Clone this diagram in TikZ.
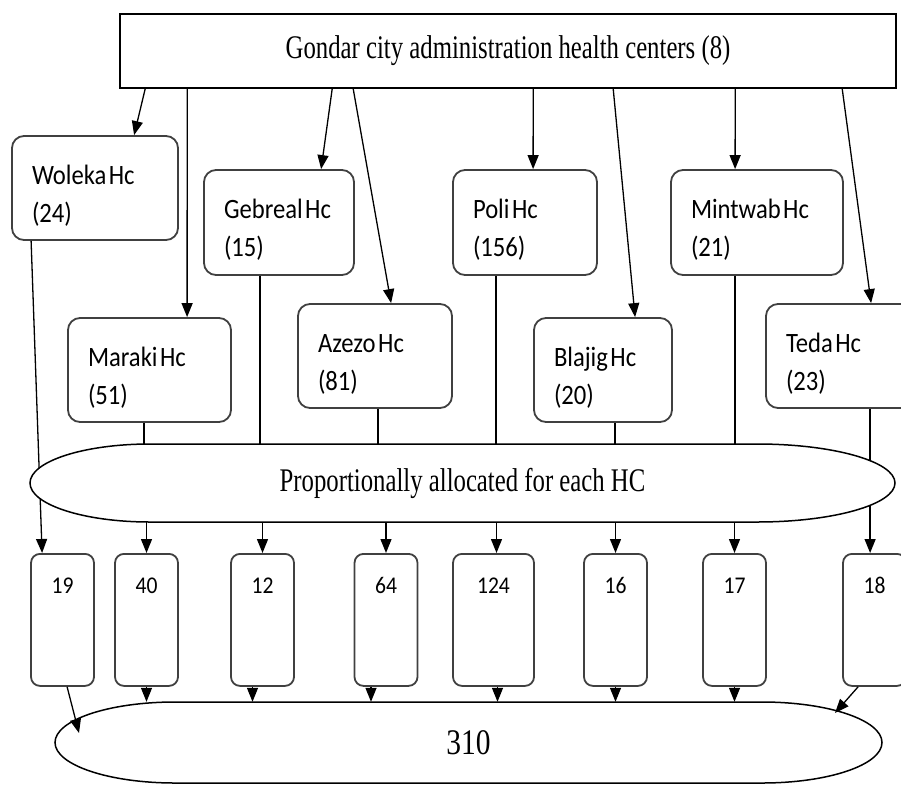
\documentclass[tikz,border=0pt]{standalone}
\usepackage{fontspec}
\setmainfont{Liberation Serif}
\newfontfamily\titlefont[FakeStretch=0.75]{Liberation Serif}
\newfontfamily\numfont[FakeStretch=0.82]{Liberation Serif}
\newfontfamily\hcfont[FakeStretch=0.88]{Carlito}
\newfontfamily\smallnum[FakeStretch=0.9]{Carlito}
\usetikzlibrary{arrows.meta,calc}
\newcommand\upstrut{\rule{0pt}{34pt}}
\newcommand\hcgap{\hspace{2.5pt}}
\begin{document}
\begin{tikzpicture}[x=1pt,y=-1pt,
  conn/.style={line width=1.3pt,draw=black},
  arr/.style={conn,-{Triangle[length=14pt,width=11pt]}},
  hcbox/.style={draw=black!75,line width=1.8pt,rounded corners=12pt,align=left,
     inner xsep=20pt,inner ysep=0pt,font=\hcfont\fontsize{28}{38}\selectfont},
  numbox/.style={draw=black!75,line width=1.8pt,rounded corners=9pt,inner xsep=0pt,inner ysep=0pt,
     minimum width=63pt,text height=40pt,text depth=92pt,font=\smallnum\fontsize{24}{28}\selectfont},
  stad/.style={draw=black,line width=1.5pt,fill=white}]
\useasboundingbox (0,0) rectangle (901,784);
\clip (0,0) rectangle (901,784);
% top box
\node[draw=black,line width=1.6pt,minimum width=776pt,minimum height=74pt,inner sep=0pt,
  font=\titlefont\fontsize{33}{38}\selectfont] (top) at (508,51) {Gondar city administration health centers (8)};
% HC boxes
\node[hcbox,text width=126pt,minimum height=104pt] (woleka) at (95,188) {\upstrut Woleka\hcgap Hc\\(24)};
\node[hcbox,text width=110pt,minimum height=105pt] (gebreal) at (279,222.5) {\upstrut Gebreal\hcgap Hc\\(15)};
\node[hcbox,text width=104pt,minimum height=105pt] (poli) at (525,222.5) {\upstrut Poli\hcgap Hc\\(156)};
\node[hcbox,text width=132pt,minimum height=105pt] (mintwab) at (757,222.5) {\upstrut Mintwab\hcgap Hc\\(21)};
\node[hcbox,text width=123pt,minimum height=104pt] (maraki) at (149.5,370) {\upstrut Maraki\hcgap Hc\\(51)};
\node[hcbox,text width=114pt,minimum height=104pt] (azezo) at (375,356) {\upstrut Azezo\hcgap Hc\\(81)};
\node[hcbox,text width=98pt,minimum height=104pt] (blajig) at (603,370) {\upstrut Blajig\hcgap Hc\\(20)};
\node[hcbox,text width=118pt,minimum height=104pt] (teda) at (845,356) {\upstrut Teda\hcgap Hc\\(23)};
% middle stadium anchor node
\node[minimum width=865pt,minimum height=78pt,inner sep=0pt] (prop) at (462.5,483) {};
% bottom boxes
\node[numbox] (n19) at (62.5,553) [anchor=north] {19};
\node[numbox] (n40) at (146.5,553) [anchor=north] {40};
\node[numbox] (n12) at (262.5,553) [anchor=north] {12};
\node[numbox] (n64) at (386,553) [anchor=north] {64};
\node[numbox,minimum width=81pt] (n124) at (493.5,553) [anchor=north] {124};
\node[numbox] (n16) at (615.5,553) [anchor=north] {16};
\node[numbox] (n17) at (734.5,553) [anchor=north] {17};
\node[numbox] (n18) at (874.5,553) [anchor=north] {18};
% bottom stadium anchor node
\node[minimum width=827pt,minimum height=81pt,inner sep=0pt] (total) at (468.5,742.5) {};
% connectors top -> HC
\draw[arr] ($(top.south west)+(26,0)$) -- ($(woleka.north west)+(123,0)$);
\draw[arr] ($(top.south west)+(68,0)$) -- ($(maraki.north west)+(120,0)$);
\draw[arr] ($(top.south west)+(213,0)$) -- ($(gebreal.north west)+(118,0)$);
\draw[arr] ($(top.south west)+(234,0)$) -- ($(azezo.north west)+(94,0)$);
\draw[arr] ($(top.south west)+(414,0)$) -- ($(poli.north west)+(81,0)$);
\draw[arr] ($(top.south west)+(494,0)$) -- ($(blajig.north west)+(102,0)$);
\draw[arr] ($(top.south west)+(616,0)$) -- ($(mintwab.north west)+(65,0)$);
\draw[arr] ($(top.south west)+(723,0)$) -- ($(teda.north west)+(106,0)$);
% HC -> through middle
\draw[arr] ($(woleka.south west)+(20,0)$) -- ($(n19.north west)+(12,0)$);
\draw[arr] ($(teda.south west)+(105,0)$) -- ($(n18.north west)+(28,0)$);
\draw[conn] ($(maraki.south west)+(77,0)$) -- ++(0,22);
\draw[conn] ($(gebreal.south west)+(57,0)$) -- (prop.north -| {$(gebreal.south west)+(57,0)$});
\draw[conn] ($(azezo.south west)+(81,0)$) -- ++(0,36);
\draw[conn] ($(poli.south west)+(44,0)$) -- (prop.north -| {$(poli.south west)+(44,0)$});
\draw[conn] ($(blajig.south west)+(82,0)$) -- ++(0,22);
\draw[conn] ($(mintwab.south west)+(65,0)$) -- (prop.north -| {$(mintwab.south west)+(65,0)$});
% middle stadium shape
\draw[stad] (150,444) -- (757,444)
  .. controls (833.2,444) and (895,461.5) .. (895,483)
  .. controls (895,504.5) and (833.2,522) .. (757,522)
  -- (150,522)
  .. controls (83.7,522) and (30,504.5) .. (30,483)
  .. controls (30,461.5) and (83.7,444) .. cycle;
\node[font=\titlefont\fontsize{33}{38}\selectfont] (proptext) at (prop.center) {Proportionally allocated for each HC};
% middle -> bottom boxes
\draw[arr] (prop.south -| n40.north) -- (n40.north);
\draw[arr] (prop.south -| n12.north) -- (n12.north);
\draw[arr] (prop.south -| n64.north) -- (n64.north);
\draw[arr] ($(prop.south -| n124.north)+(3,0)$) -- ($(n124.north)+(3,0)$);
\draw[arr] (prop.south -| n16.north) -- (n16.north);
\draw[arr] (prop.south -| n17.north) -- (n17.north);
% bottom boxes -> total
\coordinate (t19) at (79,733);
\coordinate (t18) at (835,713);
\draw[arr] ($(n19.south west)+(37,0)$) -- (t19);
\draw[arr] (n40.south) -- (n40.south |- total.north);
\draw[arr] ($(n12.south)+(-10,0)$) -- ($(n12.south |- total.north)+(-10,0)$);
\draw[arr] ($(n64.south)+(-15,0)$) -- ($(n64.south |- total.north)+(-15,0)$);
\draw[arr] ($(n124.south)+(4,0)$) -- ($(n124.south |- total.north)+(4,0)$);
\draw[arr] (n16.south) -- (n16.south |- total.north);
\draw[arr] (n17.south) -- (n17.south |- total.north);
\draw[arr] ($(n18.south west)+(16,0)$) -- (t18);
% bottom stadium shape
\draw[stad,fill=none] (175,702) -- (762,702)
  .. controls (828.3,702) and (882,720.1) .. (882,742.5)
  .. controls (882,764.9) and (828.3,783) .. (762,783)
  -- (175,783)
  .. controls (108.7,783) and (55,764.9) .. (55,742.5)
  .. controls (55,720.1) and (108.7,702) .. cycle;
\node[font=\numfont\fontsize{36}{40}\selectfont] (totaltext) at (total.center) {310};
\end{tikzpicture}
\end{document}
